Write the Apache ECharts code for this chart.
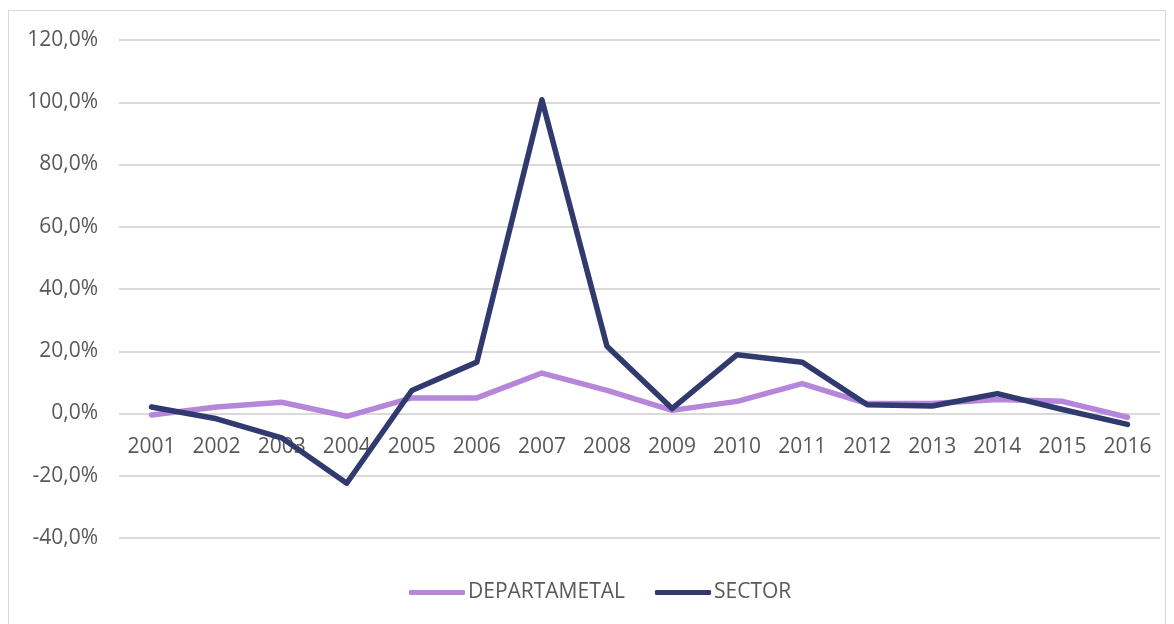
<!DOCTYPE html>
<html>
<head>
<meta charset="utf-8">
<script src="https://cdn.jsdelivr.net/npm/echarts@6/dist/echarts.min.js"></script>
<style>
    html, body { margin: 0; padding: 0; background: #fff; }
    #chart {
        position: absolute; left: 8px; top: 10px;
        width: 1158px; height: 620px;
        border: 1px solid #d9d9d9; box-sizing: border-box;
    }
</style>
</head>
<body>
<div id="chart"></div>
<script>
const years = ['2001', '2002', '2003', '2004', '2005', '2006', '2007', '2008',
    '2009', '2010', '2011', '2012', '2013', '2014', '2015', '2016'];
const departametal = [-0.5, 2.1, 3.6, -0.9, 5.0, 5.0, 13.0, 7.4, 1.0, 3.9, 9.6, 3.2, 3.2, 4.5, 3.9, -1.2];
const sector = [2.1, -1.7, -7.8, -22.4, 7.4, 16.5, 100.8, 21.6, 1.6, 18.9, 16.5, 2.8, 2.4, 6.4, 1.3, -3.5];

const labelFont = '"Open Sans", sans-serif';

const option = {
    animation: false,
    grid: {
        left: 110,
        right: 5,
        top: 29,
        bottom: 91
    },
    legend: {
        top: 566,
        left: 395,
        itemWidth: 56,
        itemHeight: 5,
        itemGap: 30,
        icon: 'roundRect',
        textStyle: { color: '#595959', fontSize: 21, fontFamily: labelFont, padding: [0, 0, 0, -2] },
        data: ['DEPARTAMETAL', 'SECTOR']
    },
    xAxis: {
        type: 'category',
        boundaryGap: true,
        data: years,
        axisLine: { show: false },
        axisTick: { show: false },
        // labels sit just under the 0% line, as in the original
        axisLabel: { color: '#595959', fontSize: 21, fontFamily: labelFont, margin: -101 }
    },
    yAxis: {
        type: 'value',
        min: -40,
        max: 120,
        interval: 20,
        axisLine: { show: false },
        axisTick: { show: false },
        splitLine: { lineStyle: { color: '#d9d9d9', width: 2 } },
        axisLabel: {
            color: '#595959', fontSize: 21, fontFamily: labelFont, margin: 21,
            formatter: v => v.toFixed(1).replace('.', ',') + '%'
        }
    },
    series: [
        {
            name: 'DEPARTAMETAL',
            type: 'line',
            symbol: 'none',
            color: '#b686db',
            lineStyle: { width: 5.5, cap: 'round', join: 'round' },
            data: departametal
        },
        {
            name: 'SECTOR',
            type: 'line',
            symbol: 'none',
            color: '#313a6e',
            lineStyle: { width: 5.5, cap: 'round', join: 'round' },
            data: sector
        }
    ]
};

const myChart = echarts.init(document.getElementById('chart'));
myChart.setOption(option);
window.addEventListener('resize', () => myChart.resize());
</script>
</body>
</html>
